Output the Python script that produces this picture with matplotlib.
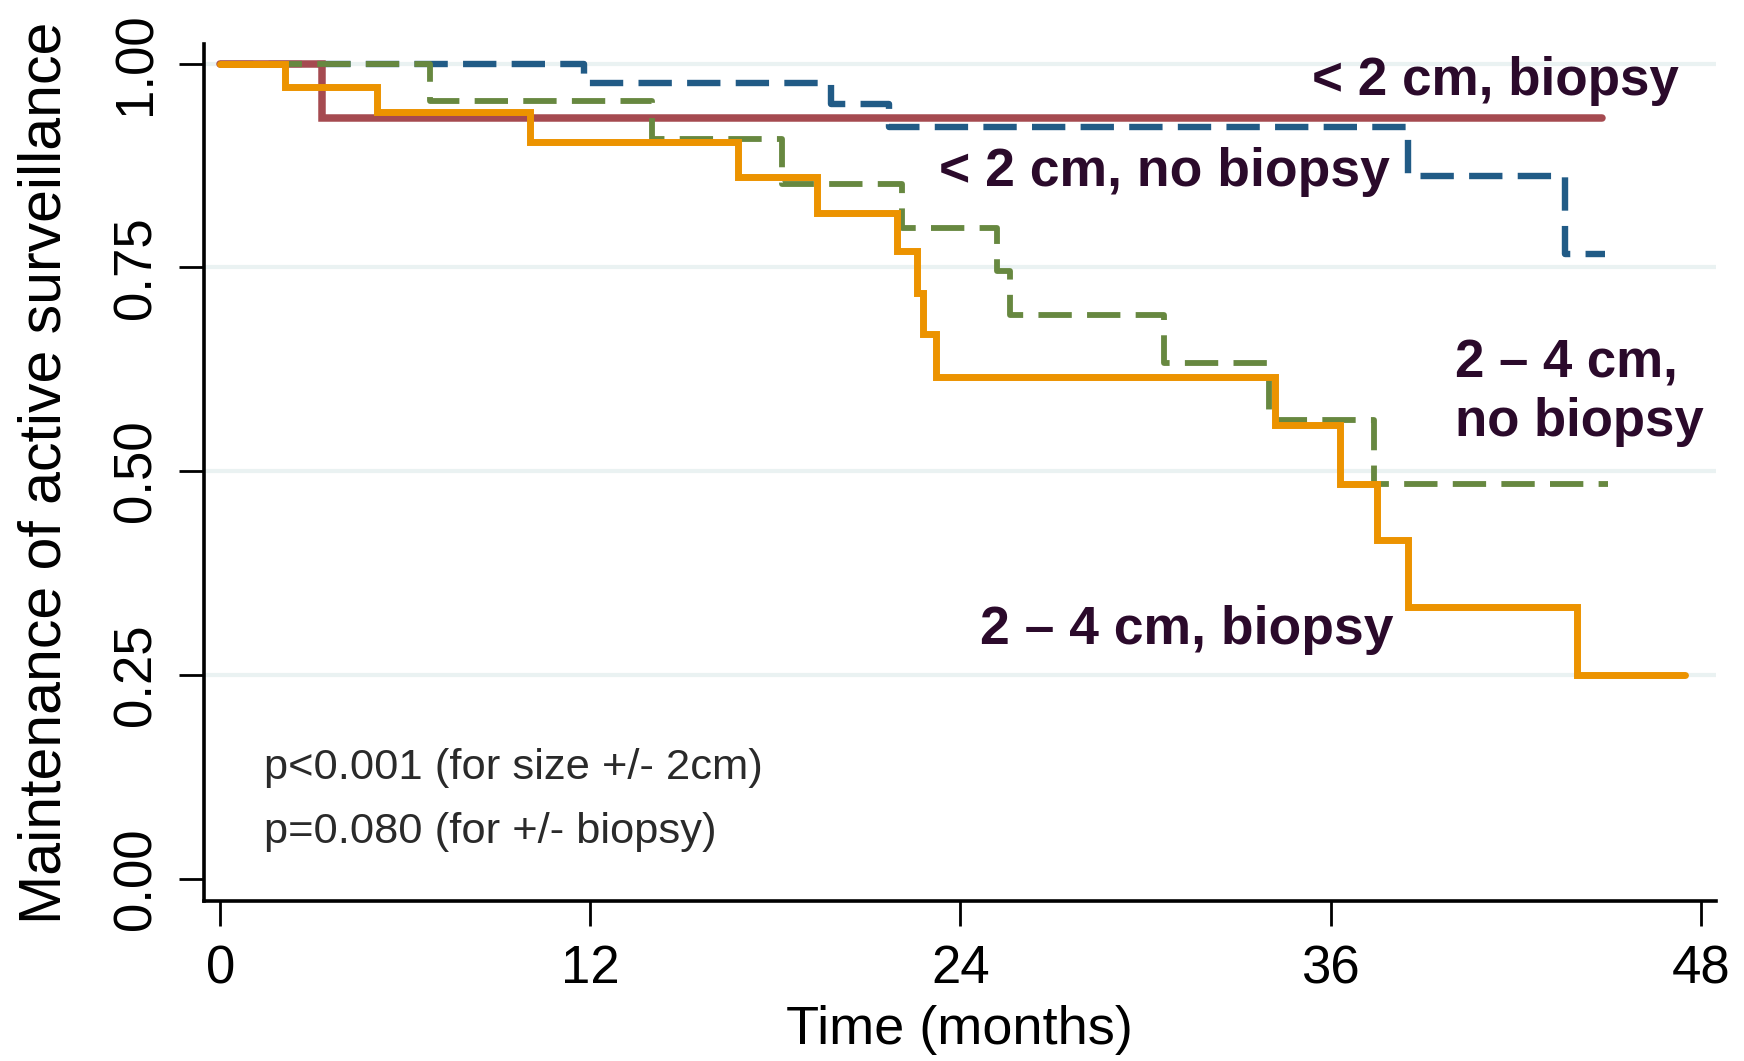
import matplotlib
matplotlib.use("Agg")
import matplotlib.pyplot as plt

# ---- data ----
red_t = [0, 3.3, 44.8]
red_s = [1.0, 0.933, 0.933]

blue_t = [0, 11.8, 19.8, 21.7, 38.5, 43.6, 44.9]
blue_s = [1.0, 0.976, 0.950, 0.922, 0.862, 0.766, 0.766]

green_t = [0, 6.8, 14.0, 18.2, 22.1, 25.2, 25.6, 30.6, 34.0, 37.4, 45.0]
green_s = [1.0, 0.954, 0.907, 0.852, 0.798, 0.745, 0.691, 0.633, 0.563, 0.484, 0.484]

orange_t = [0, 2.1, 5.1, 10.05, 16.8, 19.35, 21.95, 22.6, 22.8, 23.2, 34.2, 36.3, 37.5, 38.5, 44.0, 47.5]
orange_s = [1.0, 0.971, 0.940, 0.904, 0.861, 0.817, 0.770, 0.718, 0.668, 0.616, 0.556, 0.484, 0.416, 0.333, 0.250, 0.250]

x_ticks = [0, 12, 24, 36, 48]
y_ticks = [0.00, 0.25, 0.50, 0.75, 1.00]
y_ticklabels = ["0.00", "0.25", "0.50", "0.75", "1.00"]

labels = ["< 2 cm, biopsy", "< 2 cm, no biopsy", "2 \u2013 4 cm,\nno biopsy", "2 \u2013 4 cm, biopsy"]
pvals = ["p<0.001 (for size +/- 2cm)", "p=0.080 (for +/- biopsy)"]

# ---- style ----
plt.rcParams['font.family'] = ['Liberation Sans', 'DejaVu Sans']
plt.rcParams['lines.scale_dashes'] = False

C_RED = "#A54A50"
C_BLUE = "#215B86"
C_GREEN = "#678840"
C_ORANGE = "#EC9300"
C_TEXT = "#2B0A2B"
C_GRID = "#EAF2F2"

fig = plt.figure(figsize=(17.44, 10.61), dpi=100)
ax = fig.add_axes([0.1167, 0.1508, 0.984 - 0.1167, 0.9585 - 0.1508])

for yv in y_ticks[1:]:
    ax.axhline(yv, color=C_GRID, lw=3.0, zorder=0)

dash = (0, (24, 11))
ax.step(blue_t, blue_s, where='post', color=C_BLUE, lw=4.6, ls=dash,
        dash_capstyle='butt', zorder=2)
ax.step(red_t, red_s, where='post', color=C_RED, lw=5.4, zorder=3,
        solid_capstyle='round', solid_joinstyle='miter')
ax.step(green_t, green_s, where='post', color=C_GREEN, lw=4.2, ls=dash,
        dash_capstyle='butt', zorder=4)
ax.step(orange_t, orange_s, where='post', color=C_ORANGE, lw=5.0, zorder=5,
        solid_capstyle='round', solid_joinstyle='miter')

ax.set_xlim(-0.54, 48.5)
ax.set_ylim(-0.0276, 1.024)

ax.set_xticks(x_ticks)
ax.set_xticklabels([str(v) for v in x_ticks])
ax.set_yticks(y_ticks)
ax.set_yticklabels(y_ticklabels, rotation=90, va='center')

ax.tick_params(axis='both', which='major', length=18, width=2.0, labelsize=38,
               direction='out', color='black')
ax.tick_params(axis='y', pad=12)
ax.tick_params(axis='x', pad=13)

for s in ['top', 'right']:
    ax.spines[s].set_visible(False)
for s in ['left', 'bottom']:
    ax.spines[s].set_linewidth(2.6)

ax.set_xlabel("Time (months)", fontsize=39, labelpad=8)
ax.set_ylabel("Maintenance of active surveillance", fontsize=42.5, labelpad=28)

ax.text(35.4, 0.979, labels[0], fontsize=38.2, fontweight='bold', color=C_TEXT,
        ha='left', va='center')
ax.text(23.3, 0.867, labels[1], fontsize=38.5, fontweight='bold', color=C_TEXT,
        ha='left', va='center')
ax.text(40.05, 0.596, labels[2], fontsize=38, fontweight='bold', color=C_TEXT,
        ha='left', va='center', linespacing=1.2)
ax.text(24.64, 0.3055, labels[3], fontsize=38.5, fontweight='bold', color=C_TEXT,
        ha='left', va='center')

ax.text(1.42, 0.136, pvals[0], fontsize=31.3, color="#2a2a2a", ha='left', va='center')
ax.text(1.42, 0.057, pvals[1], fontsize=31.3, color="#2a2a2a", ha='left', va='center')

fig.savefig("out.png", dpi=100)
